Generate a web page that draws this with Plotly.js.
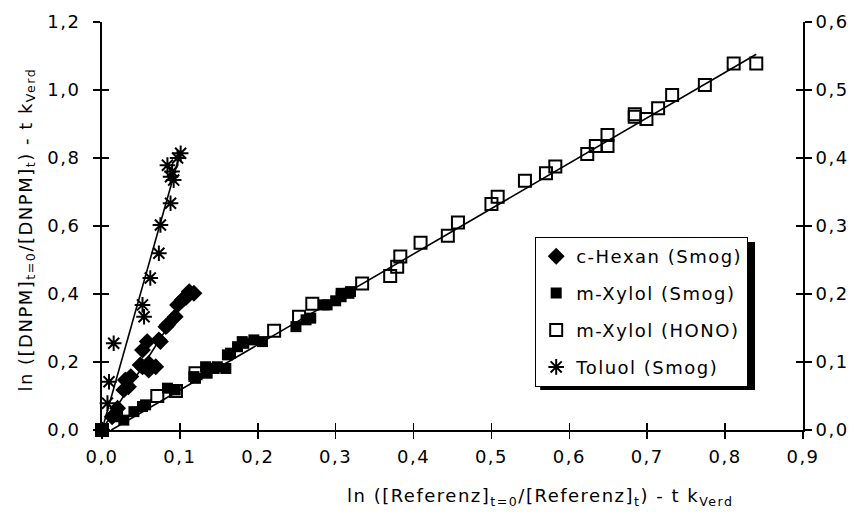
<!DOCTYPE html>
<html>
<head>
<meta charset="utf-8">
<script src="https://cdn.plot.ly/plotly-3.0.1.min.js"></script>
<style>html,body{margin:0;padding:0;background:#fff;}#chart{width:857px;height:515px;}
svg text{letter-spacing:1.5px;}</style>
</head>
<body>
<div id="chart"></div>
<script>
// c-Hexan (Smog)
var hexanX = [0, 0.013, 0.020, 0.028, 0.030, 0.034, 0.037, 0.049, 0.052, 0.052, 0.058, 0.060, 0.060, 0.069, 0.073, 0.075, 0.082, 0.084, 0.094, 0.097, 0.103, 0.105, 0.108, 0.112, 0.118];
var hexanY = [0, 0.039, 0.064, 0.118, 0.147, 0.127, 0.157, 0.191, 0.186, 0.235, 0.260, 0.176, 0.196, 0.186, 0.265, 0.260, 0.304, 0.309, 0.333, 0.368, 0.382, 0.387, 0.390, 0.407, 0.402];
// m-Xylol (Smog)
var xylSmogX = [0, 0.020, 0.028, 0.041, 0.052, 0.056, 0.084, 0.094, 0.118, 0.120, 0.133, 0.135, 0.144, 0.148, 0.159, 0.161, 0.165, 0.174, 0.180, 0.182, 0.195, 0.206, 0.249, 0.262, 0.268, 0.285, 0.289, 0.300, 0.307, 0.307, 0.317, 0.319];
var xylSmogY = [0, 0.039, 0.029, 0.054, 0.069, 0.074, 0.123, 0.118, 0.157, 0.152, 0.186, 0.167, 0.181, 0.186, 0.181, 0.221, 0.226, 0.245, 0.260, 0.255, 0.265, 0.260, 0.304, 0.324, 0.329, 0.368, 0.368, 0.380, 0.392, 0.402, 0.402, 0.407];
// m-Xylol (HONO)
var xylHonoX = [0, 0.071, 0.095, 0.120, 0.221, 0.253, 0.270, 0.334, 0.370, 0.379, 0.383, 0.409, 0.444, 0.457, 0.500, 0.508, 0.543, 0.570, 0.582, 0.623, 0.634, 0.649, 0.649, 0.684, 0.684, 0.699, 0.714, 0.732, 0.774, 0.811, 0.840];
var xylHonoY = [0, 0.100, 0.115, 0.167, 0.292, 0.333, 0.371, 0.431, 0.453, 0.480, 0.510, 0.551, 0.571, 0.610, 0.665, 0.686, 0.733, 0.755, 0.775, 0.812, 0.835, 0.835, 0.868, 0.921, 0.929, 0.915, 0.946, 0.985, 1.015, 1.078, 1.078];
// Toluol (Smog)
var toluolX = [0, 0.007, 0.009, 0.015, 0.052, 0.054, 0.062, 0.073, 0.075, 0.088, 0.088, 0.090, 0.092, 0.084, 0.097, 0.101];
var toluolY = [0, 0.079, 0.142, 0.255, 0.368, 0.333, 0.447, 0.520, 0.603, 0.667, 0.745, 0.760, 0.735, 0.779, 0.800, 0.814];
// fitted lines (start / end)
var fitToluolX = [0, 0.101];
var fitToluolY = [0, 0.820];
var fitHexanX = [0, 0.116];
var fitHexanY = [0, 0.417];
var fitXylolX = [0.012, 0.840];
var fitXylolY = [0, 1.105];

var names = ['c-Hexan (Smog)', 'm-Xylol (Smog)', 'm-Xylol (HONO)', 'Toluol (Smog)'];
var xTicks = [0, 0.1, 0.2, 0.3, 0.4, 0.5, 0.6, 0.7, 0.8, 0.9];
var yTicks = [0, 0.2, 0.4, 0.6, 0.8, 1.0, 1.2];
var y2Ticks = [0, 0.1, 0.2, 0.3, 0.4, 0.5, 0.6];
var xTitle = 'ln ([Referenz]<sub>t=0</sub>/[Referenz]<sub>t</sub>) - t k<sub>Verd</sub>';
var yTitle = 'ln ([DNPM]<sub>t=0</sub>/[DNPM]<sub>t</sub>) - t k<sub>Verd</sub>';

var FONT = 'DejaVu Sans, Liberation Sans, Arial, sans-serif';
var FS = 18;
var CLEAR = 'rgba(0,0,0,0)';

function fit(x, y) {
  return {x: x, y: y, mode: 'lines', type: 'scatter', line: {color: '#000', width: 1.6}, showlegend: false, hoverinfo: 'skip'};
}
function dummy(xa, ya) {
  return {x: [null], y: [null], xaxis: xa, yaxis: ya, mode: 'markers', type: 'scatter', showlegend: false, hoverinfo: 'skip'};
}

var data = [
  fit(fitToluolX, fitToluolY),
  fit(fitHexanX, fitHexanY),
  fit(fitXylolX, fitXylolY),
  {x: hexanX, y: hexanY, name: names[0], legendgroup: 'a', mode: 'markers', type: 'scatter',
   marker: {symbol: 'diamond', size: 13, color: '#000'}, cliponaxis: false},
  {x: xylSmogX, y: xylSmogY, name: names[1], legendgroup: 'b', mode: 'markers', type: 'scatter',
   marker: {symbol: 'square', size: 11, color: '#000'}, cliponaxis: false},
  {x: xylHonoX, y: xylHonoY, name: names[2], legendgroup: 'c', mode: 'markers', type: 'scatter',
   marker: {symbol: 'square-open', size: 12, color: '#000', line: {width: 2, color: '#000'}}, cliponaxis: false},
  {x: toluolX, y: toluolY, name: names[3], legendgroup: 'd', mode: 'markers', type: 'scatter',
   marker: {symbol: 'asterisk-open', size: 13, color: '#000', line: {width: 2, color: '#000'}}, cliponaxis: false},
  dummy('x', 'y2'),
  dummy('x2', 'y3'),
  dummy('x2', 'y4'),
  dummy('x3', 'y5')
];

var L = 101.5, R = 803, T = 22, B = 430;
function px2paperX(p) { return (p - L) / (R - L); }
function px2paperY(p) { return (B - p) / (B - T); }

var layout = {
  width: 857, height: 515,
  margin: {l: 101.5, r: 54, t: 22, b: 85},
  paper_bgcolor: '#fff', plot_bgcolor: '#fff',
  separators: ', ',
  font: {family: FONT, size: FS, color: '#000'},
  showlegend: true,
  legend: {
    x: px2paperX(535), y: px2paperY(237), xanchor: 'left', yanchor: 'top',
    bgcolor: '#fff', bordercolor: '#000', borderwidth: 1,
    font: {family: FONT, size: FS, color: '#000'},
    tracegroupgap: 10.5, itemwidth: 30
  },
  // main x axis: line + outside ticks
  xaxis: {
    range: [0, 0.9], tickvals: xTicks, showticklabels: false,
    ticks: 'outside', ticklen: 7, tickwidth: 1.5, tickcolor: '#000',
    showline: true, linecolor: '#000', linewidth: 2, showgrid: false, zeroline: false
  },
  // inside half of crossing ticks
  xaxis2: {
    range: [0, 0.9], tickvals: xTicks, overlaying: 'x', anchor: 'y',
    ticks: 'inside', ticklen: 7, tickwidth: 1.5, tickcolor: '#000',
    showticklabels: false, showline: false, showgrid: false, zeroline: false
  },
  // x tick labels
  xaxis3: {
    range: [0, 0.9], tickvals: xTicks, tickformat: '.1f', overlaying: 'x', anchor: 'y',
    ticks: 'outside', ticklen: 10, tickcolor: CLEAR,
    showline: false, showgrid: false, zeroline: false,
    tickfont: {family: FONT, size: FS}
  },
  yaxis: {
    range: [0, 1.2], tickvals: yTicks, showticklabels: false,
    ticks: 'outside', ticklen: 7, tickwidth: 1.5, tickcolor: '#000',
    showline: true, linecolor: '#000', linewidth: 2, showgrid: false, zeroline: false
  },
  // left y tick labels
  yaxis5: {
    range: [0, 1.2], tickvals: yTicks, tickformat: '.1f', overlaying: 'y', side: 'left', anchor: 'x',
    ticks: 'outside', ticklen: 17, tickcolor: CLEAR,
    showline: false, showgrid: false, zeroline: false,
    tickfont: {family: FONT, size: FS}
  },
  yaxis2: {
    range: [0, 0.6], tickvals: y2Ticks, tickformat: '.1f', overlaying: 'y', side: 'right', anchor: 'x',
    ticks: 'outside', ticklen: 7, tickwidth: 1.5, tickcolor: '#000',
    showline: true, linecolor: '#000', linewidth: 2, showgrid: false, zeroline: false,
    tickfont: {family: FONT, size: FS}
  },
  yaxis3: {
    range: [0, 1.2], tickvals: yTicks, overlaying: 'y', anchor: 'x',
    ticks: 'inside', ticklen: 7, tickwidth: 1.5, tickcolor: '#000',
    showticklabels: false, showline: false, showgrid: false, zeroline: false
  },
  yaxis4: {
    range: [0, 0.6], tickvals: y2Ticks, overlaying: 'y', side: 'right', anchor: 'x',
    ticks: 'inside', ticklen: 7, tickwidth: 1.5, tickcolor: '#000',
    showticklabels: false, showline: false, showgrid: false, zeroline: false
  },
  annotations: [{
    text: xTitle, xref: 'paper', yref: 'paper', x: px2paperX(540), y: px2paperY(497),
    xanchor: 'center', yanchor: 'middle', showarrow: false, font: {family: FONT, size: FS}
  }, {
    text: yTitle, xref: 'paper', yref: 'paper', x: px2paperX(26), y: px2paperY(230),
    xanchor: 'center', yanchor: 'middle', textangle: -90, showarrow: false, font: {family: FONT, size: FS}
  }],
  shapes: [{
    type: 'rect', xref: 'paper', yref: 'paper', layer: 'above',
    x0: px2paperX(540), x1: px2paperX(755), y0: px2paperY(390), y1: px2paperY(242),
    fillcolor: '#000', line: {width: 0}
  }]
};

Plotly.newPlot('chart', data, layout, {staticPlot: true, displayModeBar: false});
</script>
</body>
</html>
